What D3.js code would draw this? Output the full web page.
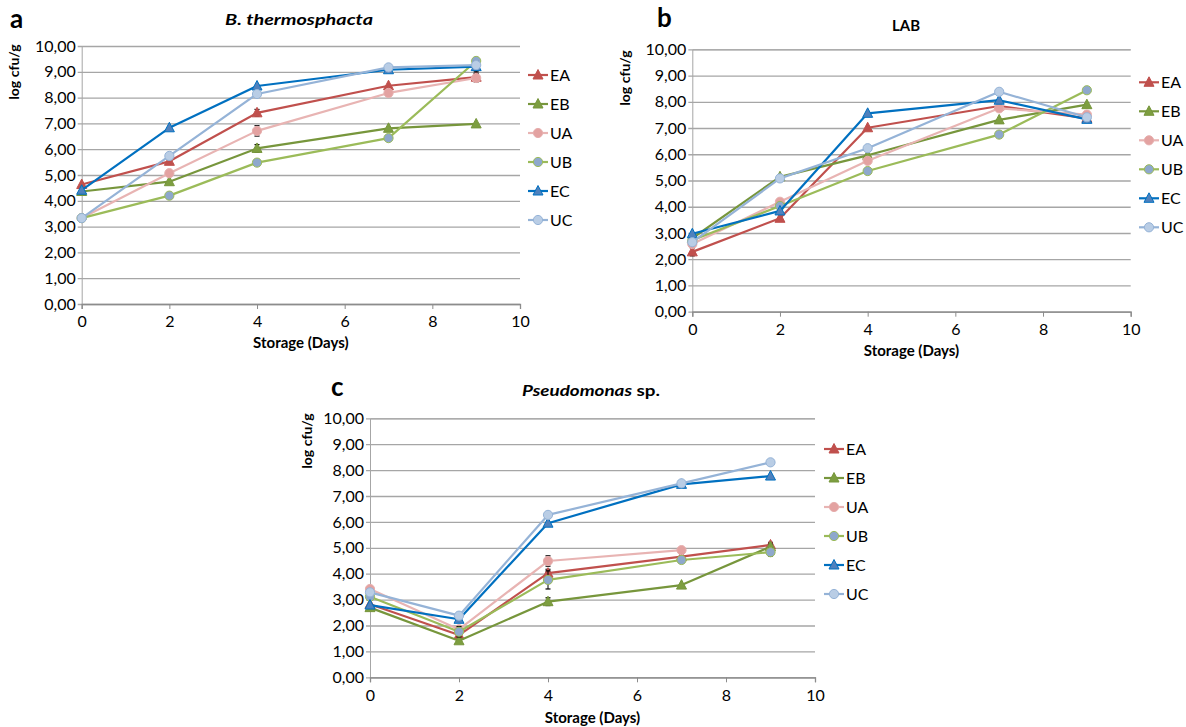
<!DOCTYPE html>
<html><head><meta charset="utf-8">
<script src="https://cdn.jsdelivr.net/npm/d3@7"></script>
<style>
body{margin:0;background:#fff;}
text{font-family:Lato,"Noto Sans",sans-serif;fill:#000;}
</style></head>
<body><svg id="c" width="1186" height="727"></svg>
<script>
// ---------- data ----------
const days = [0, 2, 4, 7, 9];
const seriesNames = ["EA", "EB", "UA", "UB", "EC", "UC"];
const xTicks = [0, 2, 4, 6, 8, 10];
const yTicks = [0,1,2,3,4,5,6,7,8,9,10];

// a: B. thermosphacta
const a_EA = [4.63, 5.53, 7.41, 8.46, 8.79];
const a_EB = [4.36, 4.74, 6.03, 6.81, 6.98];
const a_UA = [3.33, 5.07, 6.71, 8.18, 8.76];
const a_UB = [3.33, 4.20, 5.48, 6.43, 9.42];
const a_EC = [4.41, 6.83, 8.45, 9.08, 9.20];
const a_UC = [3.33, 5.74, 8.14, 9.17, 9.26];
const a_err = {EA:[0,0,0.13,0,0.15], EB:[0,0,0.15,0,0], UA:[0,0,0.2,0,0.15], UB:[0,0,0,0,0], EC:[0,0,0,0,0.2], UC:[0,0,0,0,0]};

// b: LAB
const b_EA = [2.28, 3.56, 7.01, 7.84, 7.37];
const b_EB = [2.80, 5.14, 5.96, 7.31, 7.89];
const b_UA = [2.58, 4.19, 5.75, 7.75, 7.51];
const b_UB = [2.72, 4.03, 5.36, 6.75, 8.44];
const b_EC = [2.97, 3.84, 7.56, 8.06, 7.33];
const b_UC = [2.65, 5.08, 6.23, 8.38, 7.41];
const b_err = {EA:[0.15,0,0,0,0], EB:[0,0,0,0,0], UA:[0,0,0,0,0], UB:[0,0,0,0,0], EC:[0,0,0,0,0], UC:[0,0,0,0,0]};

// c: Pseudomonas sp.
const c_EA = [2.82, 1.63, 4.02, 4.66, 5.11];
const c_EB = [2.69, 1.41, 2.92, 3.56, 5.04];
const c_UA = [3.41, 1.85, 4.49, 4.91, null];
const c_UB = [3.11, 1.76, 3.76, 4.53, 4.83];
const c_EC = [2.79, 2.24, 5.95, 7.45, 7.77];
const c_UC = [3.28, 2.38, 6.27, 7.49, 8.30];
const c_err = {EA:[0,0.1,0.15,0,0.1], EB:[0,0,0.15,0,0.1], UA:[0,0,0.2,0,0], UB:[0,0.2,0.35,0,0.15], EC:[0,0.1,0,0,0], UC:[0,0,0,0,0]};

// ---------- styles ----------
const style = {
  EA:{line:"#C0504D", fill:"#C0504D", stroke:"#C0504D", shape:"tri"},
  EB:{line:"#77963C", fill:"#7D9E40", stroke:"#77963C", shape:"tri"},
  UA:{line:"#E8B4B3", fill:"#E3A2A1", stroke:"#E6AEAD", shape:"circ"},
  UB:{line:"#9BBB59", fill:"#8EA8CC", stroke:"#9BBB59", shape:"circ"},
  EC:{line:"#0070C0", fill:"#4F81BD", stroke:"#0070C0", shape:"tri"},
  UC:{line:"#95B3D7", fill:"#B9CDE5", stroke:"#95B3D7", shape:"circ"}
};

const panels = [
  {letter:"a", title:[{t:"B. thermosphacta", i:true}], titleW:148, data:{EA:a_EA,EB:a_EB,UA:a_UA,UB:a_UB,EC:a_EC,UC:a_UC}, err:a_err,
   x0:81.7, x1:520, y0:304, y1:46, titleX:299, titleY:25, letterX:10, letterY:28, ylabX:19, ylabY:72, xlabY:348, legX:528, legY0:75},
  {letter:"b", title:[{t:"LAB", i:false}], titleW:28, data:{EA:b_EA,EB:b_EB,UA:b_UA,UB:b_UB,EC:b_EC,UC:b_UC}, err:b_err,
   x0:692.3, x1:1130.7, y0:311.7, y1:49.3, titleX:906, titleY:31, letterX:657, letterY:27, ylabX:630, ylabY:78, xlabY:356, legX:1139, legY0:82.3},
  {letter:"c", title:[{t:"Pseudomonas", i:true},{t:" sp.", i:false}], titleW:138, data:{EA:c_EA,EB:c_EB,UA:c_UA,UB:c_UB,EC:c_EC,UC:c_UC}, err:c_err,
   x0:370, x1:815, y0:677.3, y1:418.3, titleX:591, titleY:396, letterX:331, letterY:396, ylabX:312, ylabY:441, xlabY:723, legX:824, legY0:449}
];

const svg = d3.select("#c");
const fmt = v => d3.format(".2f")(v).replace(".", ",");
const grid = "#A6A6A6";

function marker(g, shape, cx, cy, st){
  if(shape==="tri"){
    const s=5;
    g.append("path").attr("d",`M${cx},${cy-s-0.5}L${cx+s},${cy+s-1}L${cx-s},${cy+s-1}Z`)
      .attr("fill",st.fill).attr("stroke",st.stroke).attr("stroke-width",1);
  } else {
    g.append("circle").attr("cx",cx).attr("cy",cy).attr("r",4.6)
      .attr("fill",st.fill).attr("stroke",st.stroke).attr("stroke-width",1);
  }
}

panels.forEach(p=>{
  const g = svg.append("g");
  const x = d3.scaleLinear().domain([0,10]).range([p.x0,p.x1]);
  const y = d3.scaleLinear().domain([0,10]).range([p.y0,p.y1]);

  // gridlines + y axis
  const ya = d3.axisLeft(y).tickValues(yTicks).tickFormat(fmt).tickSize(-(p.x1-p.x0)).tickPadding(6);
  const yg = g.append("g").attr("transform",`translate(${p.x0},0)`).call(ya);
  yg.select(".domain").attr("stroke",grid);
  yg.selectAll(".tick line").attr("stroke",grid).attr("stroke-width",1.3).attr("x1",-4);
  yg.selectAll(".tick text").style("font-size","16px").attr("fill","#000").attr("x",-6);

  // x axis
  const xa = d3.axisBottom(x).tickValues(xTicks).tickFormat(d3.format("d")).tickSize(5).tickPadding(7);
  const xg = g.append("g").attr("transform",`translate(0,${p.y0})`).call(xa);
  xg.select(".domain").attr("stroke","#8C8C8C").attr("stroke-width",1.3);
  xg.selectAll(".tick line").attr("stroke","#8C8C8C");
  xg.selectAll(".tick text").style("font-size","16px").attr("fill","#000");

  // lines & markers
  seriesNames.forEach(n=>{
    const st = style[n];
    const vals = p.data[n];
    const pts = days.map((d,i)=>({d, v:vals[i], e:p.err[n][i]}));
    const line = d3.line().defined(q=>q.v!=null).x(q=>x(q.d)).y(q=>y(q.v));
    g.append("path").datum(pts).attr("d",line).attr("fill","none")
      .attr("stroke",st.line).attr("stroke-width",2.2).attr("stroke-linejoin","round");
    pts.filter(q=>q.v!=null && q.e>0).forEach(q=>{
      const cx=x(q.d), ya1=y(q.v+q.e), ya2=y(q.v-q.e);
      g.append("line").attr("x1",cx).attr("x2",cx).attr("y1",ya1).attr("y2",ya2).attr("stroke","#000").attr("stroke-width",1);
      [ya1,ya2].forEach(yy=>g.append("line").attr("x1",cx-2.5).attr("x2",cx+2.5).attr("y1",yy).attr("y2",yy).attr("stroke","#000").attr("stroke-width",1.2));
    });
    pts.filter(q=>q.v!=null).forEach(q=>marker(g, st.shape, x(q.d), y(q.v), st));
  });

  // legend
  seriesNames.forEach((n,i)=>{
    const st=style[n];
    const ly = p.legY0 + i*29;
    g.append("line").attr("x1",p.legX).attr("x2",p.legX+20).attr("y1",ly).attr("y2",ly)
      .attr("stroke",st.line).attr("stroke-width",2.2);
    marker(g, st.shape, p.legX+10, ly, st);
    g.append("text").attr("x",p.legX+22).attr("y",ly+5.5).style("font-size","16px").text(n);
  });

  // title
  const t = g.append("text").attr("x",p.titleX).attr("y",p.titleY).attr("text-anchor","middle")
    .attr("textLength",p.titleW).attr("lengthAdjust","spacingAndGlyphs")
    .style("font-size","16px").style("font-weight","bold");
  p.title.forEach(s=>t.append("tspan").style("font-style",s.i?"italic":"normal").text(s.t));

  // panel letter
  g.append("text").attr("x",p.letterX).attr("y",p.letterY).style("font-size","26px").style("font-weight","bold").text(p.letter);

  // y label
  g.append("text").attr("transform",`translate(${p.ylabX},${p.ylabY}) rotate(-90)`).attr("text-anchor","middle")
    .style("font-size","14px").style("font-weight","bold").text("log cfu/g");

  // x label
  g.append("text").attr("x",(p.x0+p.x1)/2).attr("y",p.xlabY).attr("text-anchor","middle")
    .style("font-size","15px").style("font-weight","bold").text("Storage (Days)");
});
</script></body></html>
